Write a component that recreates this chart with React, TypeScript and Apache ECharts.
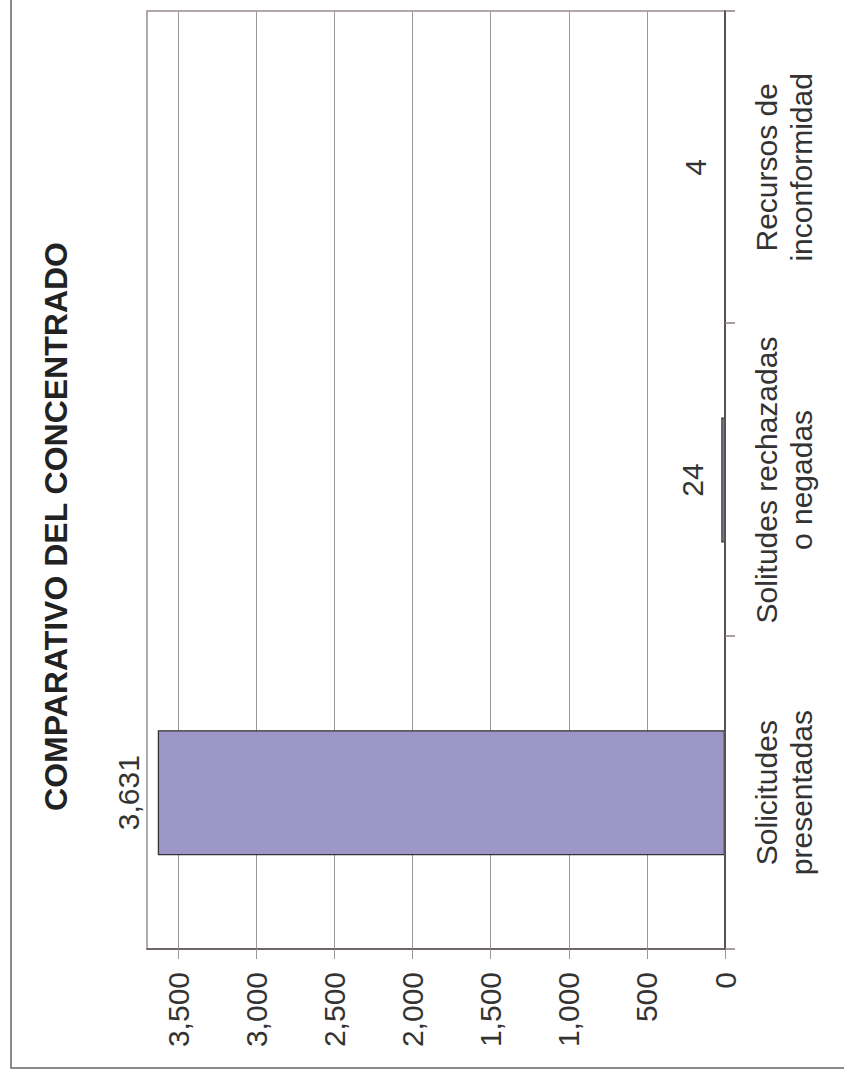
import React, { useEffect, useRef } from "react";
import * as echarts from "echarts";

const titleText = "COMPARATIVO DEL CONCENTRADO";
const categories = [
  "Solicitudes\npresentadas",
  "Solitudes rechazadas\no negadas",
  "Recursos de\ninconformidad",
];
const values = [3631, 24, 4];
const valueMin = 0;
const valueMax = 3700;
const valueInterval = 500;

const FONT = '"Liberation Sans", Arial, Helvetica, sans-serif';
const fmt = (v: number) => Number(v).toLocaleString("en-US");

// The chart is drawn upright (1079 x 844) and the whole box is turned -90deg,
// as in the reference picture.
const W = 1079;
const H = 844;

export default function App() {
  const ref = useRef<HTMLDivElement>(null);
  useEffect(() => {
    document.body.style.overflow = "hidden";
    const chart = echarts.init(ref.current!, null, { renderer: "svg" });
    chart.setOption({
      animation: false,
      backgroundColor: "#ffffff",
      textStyle: { fontFamily: FONT },
      graphic: [
        {
          type: "rect",
          silent: true,
          shape: { x: 11, y: 11, width: 1300, height: 1100 },
          style: { fill: "none", stroke: "#666666", lineWidth: 1.5 },
        },
        {
          type: "text",
          x: 837,
          y: 56,
          style: {
            text: titleText,
            fontFamily: FONT,
            fontSize: 32,
            fontWeight: "bold",
            fill: "#222222",
            align: "right",
            verticalAlign: "middle",
          },
        },
      ],
      grid: {
        left: 130,
        right: 11,
        top: 147,
        bottom: 119,
        show: true,
        borderColor: "#9a8c8c",
        borderWidth: 1.5,
        backgroundColor: "transparent",
      },
      xAxis: {
        type: "category",
        data: categories,
        z: 5,
        axisLine: { show: true, lineStyle: { color: "#5a5252", width: 2 } },
        axisTick: {
          show: true,
          length: 10,
          inside: false,
          alignWithLabel: false,
          interval: 0,
          lineStyle: { color: "#8a8080", width: 1.5 },
        },
        axisLabel: {
          interval: 0,
          margin: 24,
          fontSize: 30,
          lineHeight: 35,
          color: "#333333",
          fontFamily: FONT,
          align: "center",
        },
        splitLine: { show: false },
      },
      yAxis: {
        type: "value",
        min: valueMin,
        max: valueMax,
        interval: valueInterval,
        axisLine: { show: true, lineStyle: { color: "#5a5252", width: 1.5 } },
        axisTick: {
          show: true,
          length: 10,
          inside: false,
          lineStyle: { color: "#999999", width: 1 },
        },
        axisLabel: {
          margin: 23,
          fontSize: 30,
          color: "#333333",
          fontFamily: FONT,
          showMaxLabel: false,
          formatter: (v: number) => fmt(v),
        },
        splitLine: {
          show: true,
          showMaxLine: false,
          lineStyle: { color: "#999999", width: 1 },
        },
      },
      series: [
        {
          type: "bar",
          data: values,
          barWidth: "40%",
          itemStyle: {
            color: "#9d97c8",
            borderColor: "#333333",
            borderWidth: 1.3,
          },
          label: {
            show: true,
            position: "top",
            distance: 14,
            fontSize: 30,
            color: "#333333",
            fontFamily: FONT,
            formatter: (p: any) => fmt(p.value),
          },
        },
      ],
    });
    return () => chart.dispose();
  }, []);

  return (
    <div
      ref={ref}
      style={{
        position: "absolute",
        left: 0,
        top: 0,
        width: W,
        height: H,
        transformOrigin: "0 0",
        transform: `translateY(${W}px) rotate(-90deg)`,
      }}
    />
  );
}
